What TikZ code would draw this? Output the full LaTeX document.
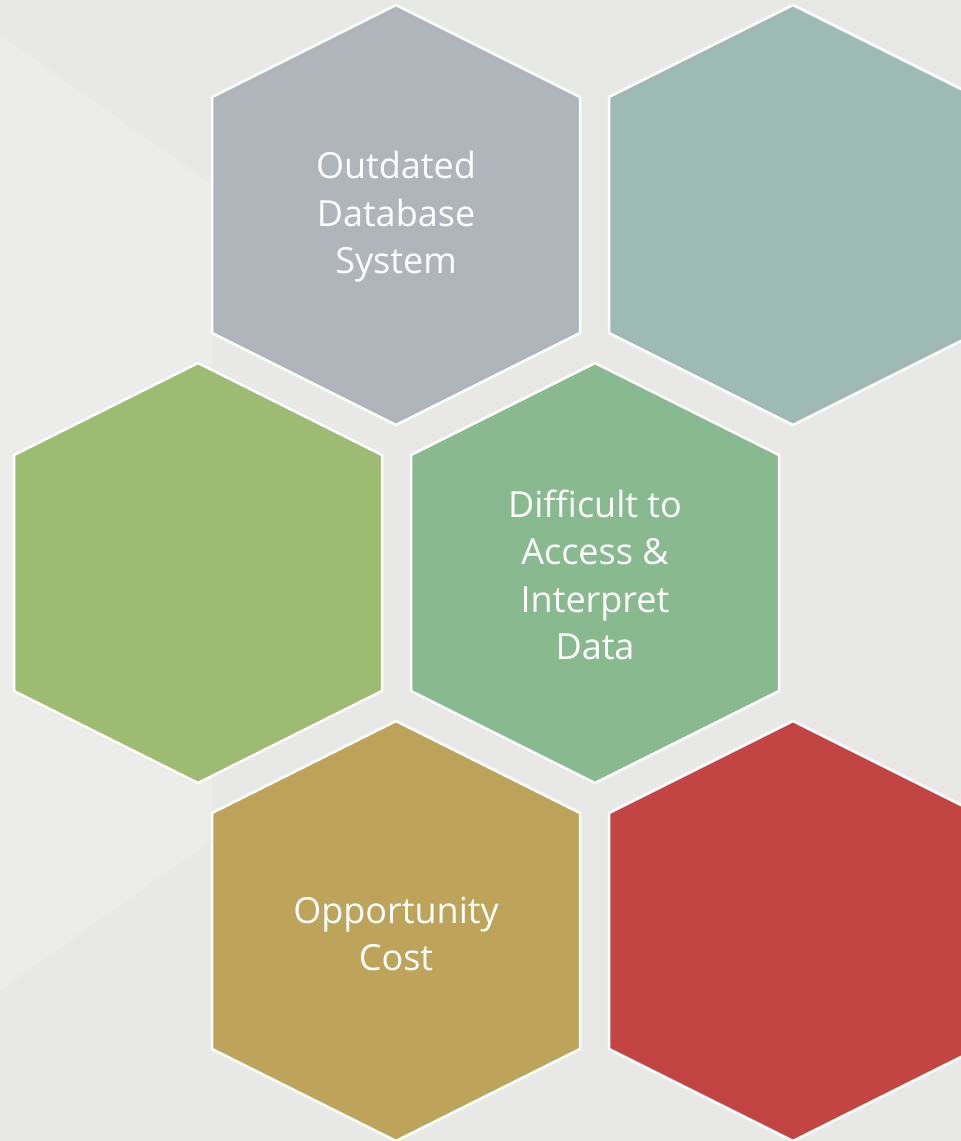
\documentclass[tikz,border=0pt]{standalone}
\usepackage{fontspec}
\setmainfont{Open Sans}
\begin{document}
\begin{tikzpicture}[x=1pt,y=-1pt,
  hexfill/.style={draw=white,line width=2.5pt,line join=miter},
  hextext/.style={text=white,align=center,font=\fontsize{36}{47.5}\selectfont}]
\definecolor{bg}{HTML}{E8E8E7}
\definecolor{bglight}{HTML}{ECECEB}
\definecolor{hgray}{HTML}{B0B5BC}
\definecolor{hteal}{HTML}{9EBAB5}
\definecolor{hlime}{HTML}{9EBB73}
\definecolor{hgreen}{HTML}{89BA8F}
\definecolor{hgold}{HTML}{BEA35B}
\definecolor{hred}{HTML}{C24443}
\useasboundingbox (0,0) rectangle (961,1141);
\fill[bg] (0,0) rectangle (961,1141);
\fill[bglight] (0,35) -- (212,185) -- (212,840) -- (0,990) -- cycle;
\newcommand{\hexat}[3]{%
  \fill[#3] (#1,#2-210) -- (#1+184,#2-118) -- (#1+184,#2+118) -- (#1,#2+210) -- (#1-184,#2+118) -- (#1-184,#2-118) -- cycle;
  \draw[hexfill] (#1,#2-210) -- (#1+184,#2-118) -- (#1+184,#2+118) -- (#1,#2+210) -- (#1-184,#2+118) -- (#1-184,#2-118) -- cycle;}
\hexat{396}{215}{hgray}
\hexat{793}{215}{hteal}
\hexat{198}{573}{hlime}
\hexat{595}{573}{hgreen}
\hexat{396}{931}{hgold}
\hexat{793}{931}{hred}
\node[hextext] (t1) at (396,217) {Outdated\\Database\\System};
\node[hextext] (t4) at (595,575) {Difficult to\\Access \&\\Interpret\\Data};
\node[hextext] (t5) at (396,934) {Opportunity\\Cost};
\end{tikzpicture}
\end{document}
